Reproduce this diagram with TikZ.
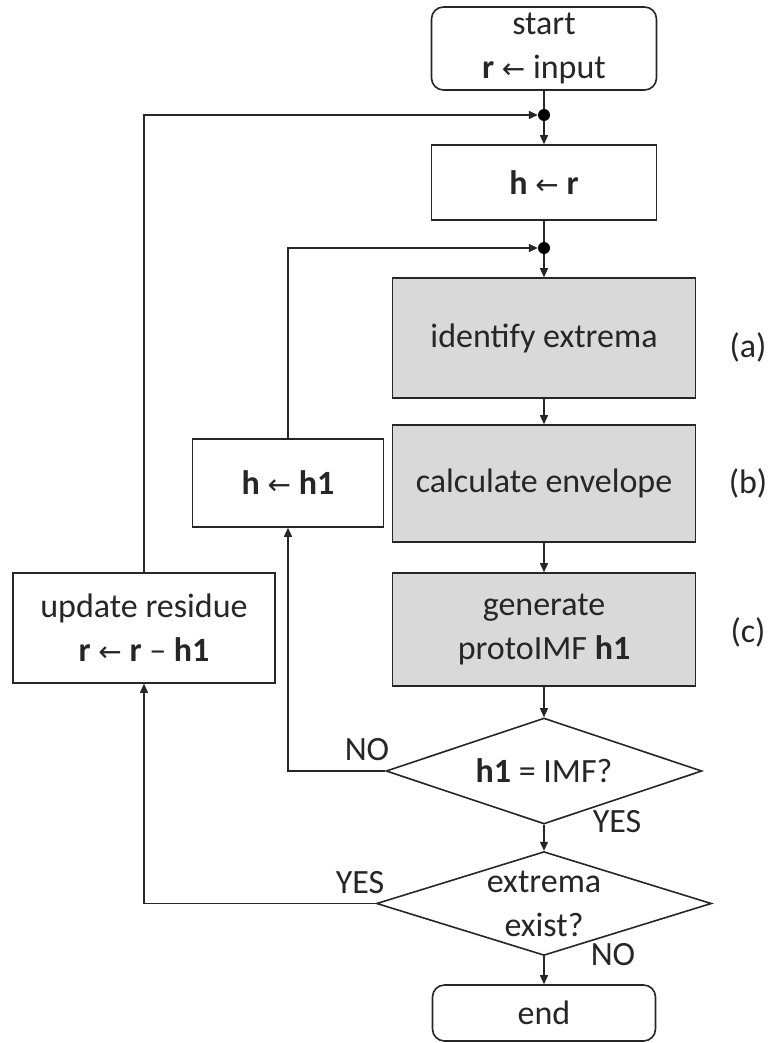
\documentclass[tikz,border=0pt]{standalone}
\usepackage{fontspec}
\setmainfont{Carlito}
\newfontfamily\arrowfont{DejaVu Sans}
\usetikzlibrary{shapes.geometric,arrows.meta}
\newcommand\lar{{\arrowfont\fontsize{28}{28}\selectfont ←}}
\definecolor{ink}{HTML}{262626}
\definecolor{boxgray}{HTML}{D9D9D9}
\begin{document}
\begin{tikzpicture}[x=1pt,y=-1pt,
  every node/.style={font=\fontsize{34}{44}\selectfont, text=ink},
  base/.style={draw=ink, line width=1.6pt, inner sep=0pt, align=center},
  term/.style={base, rounded corners=12pt, fill=white},
  proc/.style={base, rectangle, fill=white},
  work/.style={base, rectangle, fill=boxgray},
  decide/.style={base, diamond, aspect=3, fill=white},
  junction/.style={circle, fill=black, inner sep=0pt, minimum size=12pt},
  flow/.style={draw=ink, line width=1.4pt},
  arr/.style={flow, -{Triangle[length=9pt,width=8pt]}},
  tag/.style={inner sep=0pt}
]
\useasboundingbox (0,0) rectangle (771,1043);

% main column
\node[term, minimum width=225, minimum height=83] (start) at (544,48.5) {start\\\textbf{r} \lar{} input};
\node[junction] (j1) at (544,115) {};
\node[proc, minimum width=225, minimum height=75] (hr) at (544,182.5) {\textbf{h} \lar{} \textbf{r}};
\node[junction] (j2) at (544,248) {};
\node[work, minimum width=303, minimum height=120] (ident) at (544,338) {identify extrema};
\node[work, minimum width=303, minimum height=117] (calc) at (544,483.5) {calculate envelope};
\node[work, minimum width=303, minimum height=113] (gen) at (544,629.5) {generate\\protoIMF \textbf{h1}};
\node[decide, minimum width=316, minimum height=106] (d1) at (544,771) {\textbf{h1} = IMF?};
\node[decide, minimum width=335, minimum height=103] (d2) at (544,903.5) {extrema\\exist?};
\node[term, minimum width=223, minimum height=56] (end) at (544,1013) {end};

% side boxes
\node[proc, minimum width=191, minimum height=88] (hh1) at (288,483) {\textbf{h} \lar{} \textbf{h1}};
\node[proc, minimum width=262, minimum height=110] (upd) at (144,628) {update residue\\\textbf{r} \lar{} \textbf{r} -- \textbf{h1}};

% step labels
\node[tag] (la) at (748,347) {(a)};
\node[tag] (lb) at (748,483) {(b)};
\node[tag] (lc) at (748,632) {(c)};

% connectors
\draw[flow] (start) -- (j1);
\draw[arr] (j1) -- (hr);
\draw[flow] (hr) -- (j2);
\draw[arr] (j2) -- (ident);
\draw[arr] (ident) -- (calc);
\draw[arr] (calc) -- (gen);
\draw[arr] (gen) -- (d1);
\draw[arr] (d1) -- (d2);
\draw[arr] (d2) -- (end);
\draw[arr] (d1.west) -| (hh1.south);
\draw[arr] (hh1.north) |- (j2.west);
\draw[arr] (d2.west) -| (upd.south);
\draw[arr] (upd.north) |- (j1.west);

% branch labels
\node[tag] (no1) at (367,750) {NO};
\node[tag] (yes1) at (617,822) {YES};
\node[tag] (yes2) at (360,883) {YES};
\node[tag] (no2) at (613,955) {NO};
\end{tikzpicture}
\end{document}
